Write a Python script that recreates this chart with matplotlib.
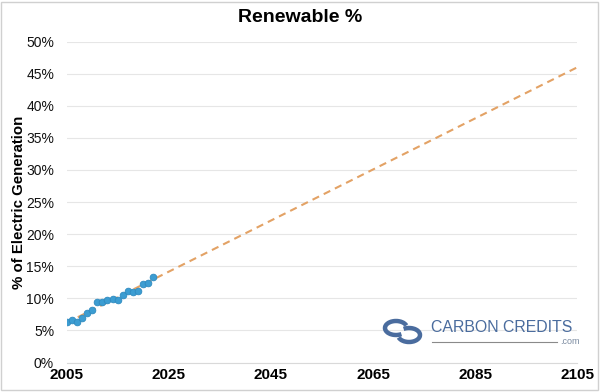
import matplotlib.pyplot as plt
import numpy as np
from matplotlib.ticker import PercentFormatter
from matplotlib.patches import Arc, Rectangle

# data
years = [2005, 2006, 2007, 2008, 2009, 2010, 2011, 2012, 2013,
         2014, 2015, 2016, 2017, 2018, 2019, 2020, 2021, 2022]
renewable = [6.3, 6.6, 6.4, 7.0, 7.8, 8.2, 9.5, 9.4, 9.7,
             9.9, 9.8, 10.5, 11.2, 11.0, 11.2, 12.2, 12.4, 13.4]
trend_end = 2105
x_ticks = [2005, 2025, 2045, 2065, 2085, 2105]
y_ticks = [0, 5, 10, 15, 20, 25, 30, 35, 40, 45, 50]

plt.rcParams['font.family'] = ['Liberation Sans', 'DejaVu Sans']

fig = plt.figure(figsize=(6, 3.92), dpi=100)
ax = fig.add_axes([0.111, 0.075, 0.851, 0.819])

# linear trendline, extended like an Excel forecast
coef = np.polyfit(years, renewable, 1)
tx = np.array([years[0], trend_end])
ax.plot(tx, np.polyval(coef, tx), ls=(0, (3.5, 2.5)), color='#E3A265', lw=1.5, zorder=2)

ax.plot(years, renewable, 'o', color='#3C9DD2', markersize=4.8,
        markeredgewidth=0.6, markeredgecolor='#2F8ABF', zorder=3)

ax.set_xlim(2005, 2105)
ax.set_ylim(0, 50)
ax.set_xticks(x_ticks)
ax.set_yticks(y_ticks)
ax.yaxis.set_major_formatter(PercentFormatter(decimals=0))
ax.grid(axis='y', color='#E6E6E6', lw=0.8)
ax.set_axisbelow(True)
for s in ['top', 'right', 'left']:
    ax.spines[s].set_visible(False)
ax.spines['bottom'].set_color('#D9D9D9')
ax.tick_params(length=0)
ax.tick_params(axis='y', pad=9, labelsize=10, labelcolor='#111111')
ax.tick_params(axis='x', pad=4, labelsize=11)
for lab in ax.get_xticklabels():
    lab.set_fontweight('bold')

ax.set_ylabel('% of Electric Generation', fontsize=10.8, fontweight='bold')
ax.yaxis.set_label_coords(-0.08, 0.5)
fig.text(0.5, 0.955, 'Renewable %', ha='center', va='center',
         fontsize=14, fontweight='bold')

# logo
logo_c = '#4A6C9E'
fig.text(431 / 600, 1 - 328 / 392, 'CARBON CREDITS', ha='left', va='center',
         fontsize=11.4, color=logo_c)
fig.add_artist(plt.Line2D([432 / 600, 557 / 600], [1 - 342 / 392] * 2,
                          color='#8A8A8A', lw=0.8))
fig.text(580 / 600, 1 - 342 / 392, '.com', ha='right', va='center',
         fontsize=6.5, color='#7A8AA0')
fig.add_artist(Arc((396 / 600, 1 - 328 / 392), 22 / 600, 14 / 392, theta1=20, theta2=300,
                   color=logo_c, lw=3.2, transform=fig.transFigure))
fig.add_artist(Arc((409 / 600, 1 - 335 / 392), 22 / 600, 14 / 392, theta1=200, theta2=120,
                   color=logo_c, lw=3.2, transform=fig.transFigure))

# figure border
fig.add_artist(Rectangle((0.002, 0.004), 0.994, 0.992, fill=False, ec='#D0D0D0',
                         lw=1, transform=fig.transFigure))

fig.savefig('out.png', dpi=100)
